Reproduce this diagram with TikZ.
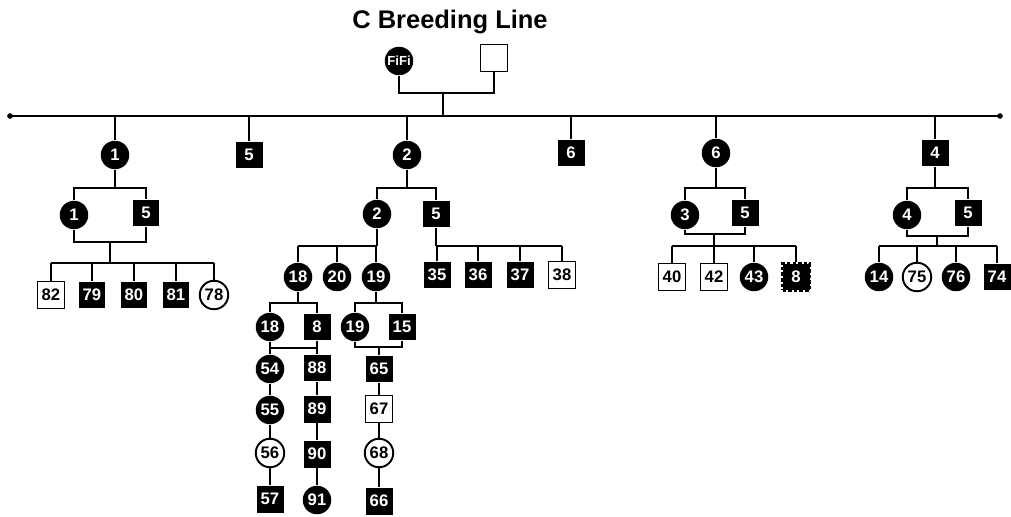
\documentclass[tikz,border=0pt]{standalone}
\usepackage{fontspec}
\setmainfont{Liberation Sans}

\tikzset{
    fem/.style={circle,fill=black,text=white,minimum size=0.57cm,inner sep=0pt,
        font=\bfseries\fontsize{9.5}{10}\selectfont},
    femw/.style={fem,draw=black,line width=1.1pt,fill=white,text=black},
    femtag/.style={fem,font=\bfseries\fontsize{7.5}{8}\selectfont},
    male/.style={rectangle,fill=black,text=white,minimum size=0.54cm,inner sep=0pt,
        font=\bfseries\fontsize{9.5}{10}\selectfont},
    malew/.style={male,draw=black,line width=1.1pt,fill=white,text=black},
    malex/.style={male,draw=black,line width=1.6pt,dash pattern=on 2pt off 1.2pt},
}

\begin{document}
\begin{tikzpicture}[x=0.02cm,y=-0.02cm,line width=1.1pt]

\useasboundingbox (0,0) rectangle (1011,517);

\node[font=\bfseries\fontsize{14.5}{17}\selectfont] (title) at (450,22) {C Breeding Line};

\foreach \n/\x/\y/\st/\t in
{fifi/399/61/femtag/FiFi,
    sire/494/58/malew/{},
    a1/115/155/fem/1,
    a2/249/155/male/5,
    a3/407/155/fem/2,
    a4/571/153/male/6,
    a5/716/153/fem/6,
    a6/935/153/male/4,
    b1f/74/215/fem/1,
    b1m/146/213/male/5,
    b3f/377/214/fem/2,
    b3m/436/214/male/5,
    b5f/685/215/fem/3,
    b5m/745/213/male/5,
    b6f/907/215/fem/4,
    b6m/968/213/male/5,
    c82/51/295/malew/82,
    c79/92/295/male/79,
    c80/134/295/male/80,
    c81/176/295/male/81,
    c78/214/295/femw/78,
    c18/298/277/fem/18,
    c20/337/277/fem/20,
    c19/376/277/fem/19,
    c35/437/275/male/35,
    c36/478/275/male/36,
    c37/520/275/male/37,
    c38/562/275/malew/38,
    c40/672/277/malew/40,
    c42/714/277/malew/42,
    c43/754/277/fem/43,
    c8/796/277/malex/8,
    c14/879/277/fem/14,
    c75/917/277/femw/75,
    c76/956/277/fem/76,
    c74/997/277/male/74,
    d18/270/327/fem/18,
    d8/317/327/male/8,
    d19/355/327/fem/19,
    d15/402/327/male/15,
    e54/270/369/fem/54,
    e55/270/410/fem/55,
    e56/270/453/femw/56,
    e57/270/499/male/57,
    e88/317/368/male/88,
    e89/317/409/male/89,
    e90/317/454/male/90,
    e91/317/500/fem/91,
    e65/379/369/male/65,
    e67/379/409/malew/67,
    e68/379/453/femw/68,
    e66/379/501/male/66}
{
    \node[\st] (\n) at (\x,\y) {\t};
};

\coordinate (topbar) at (443,93);
\coordinate (lineL) at (10,116);
\coordinate (lineR) at (1000,116);
\coordinate (sib) at (0,188);

\draw (fifi) |- (topbar) -| (sire);
\draw (topbar) -- (topbar |- lineL);
\draw (lineL) -- (lineR);
\fill (lineL) circle (1.6pt);
\fill (lineR) circle (1.6pt);

\foreach \n in {a1,a2,a3,a4,a5,a6}
{
    \draw (\n) -- (\n |- lineL);
};

\foreach \p/\f/\m in {a1/b1f/b1m, a3/b3f/b3m, a5/b5f/b5m, a6/b6f/b6m}
{
    \draw (\p) -- (\p |- sib);
    \draw (\f) |- (\p |- sib) -| (\m);
};

\coordinate (j1) at (110,242);
\coordinate (k1) at (110,263);
\draw (b1f) |- (j1) -| (b1m);
\draw (j1) -- (k1);
\draw (c82 |- k1) -- (c78 |- k1);
\foreach \c in {c82,c79,c80,c81,c78}
{
    \draw (\c) -- (\c |- k1);
};

\coordinate (k3) at (0,246);
\draw (b3f) -- (b3f |- k3);
\draw (b3m) -- (b3m |- k3);
\draw (c18 |- k3) -- (b3f |- k3);
\draw (b3m |- k3) -- (c38 |- k3);
\foreach \c in {c18,c20,c19,c35,c36,c37,c38}
{
    \draw (\c) -- (\c |- k3);
};

\coordinate (j5) at (714,234);
\coordinate (k5) at (714,246);
\draw (b5f) |- (j5) -| (b5m);
\draw (j5) -- (k5);
\draw (c40 |- k5) -- (c8 |- k5);
\foreach \c in {c40,c42,c43,c8}
{
    \draw (\c) -- (\c |- k5);
};

\coordinate (j6) at (937,236);
\coordinate (k6) at (937,246);
\draw (b6f) |- (j6) -| (b6m);
\draw (j6) -- (k6);
\draw (c14 |- k6) -- (c74 |- k6);
\foreach \c in {c14,c75,c76,c74}
{
    \draw (\c) -- (\c |- k6);
};

\coordinate (g18) at (0,303);
\draw (c18) -- (c18 |- g18);
\draw (d18) |- (c18 |- g18) -| (d8);
\draw (c19) -- (c19 |- g18);
\draw (d19) |- (c19 |- g18) -| (d15);

\coordinate (h18) at (0,348);
\coordinate (j19) at (379,347);
\draw (d18) -- (e54);
\draw (d8) -- (e88);
\draw (d18 |- h18) -- (d8 |- h18);
\draw (d19) |- (j19) -| (d15);
\draw (j19) -- (e65);

\draw (e54) -- (e55) -- (e56) -- (e57);
\draw (e88) -- (e89) -- (e90) -- (e91);
\draw (e65) -- (e67) -- (e68) -- (e66);

\end{tikzpicture}
\end{document}
